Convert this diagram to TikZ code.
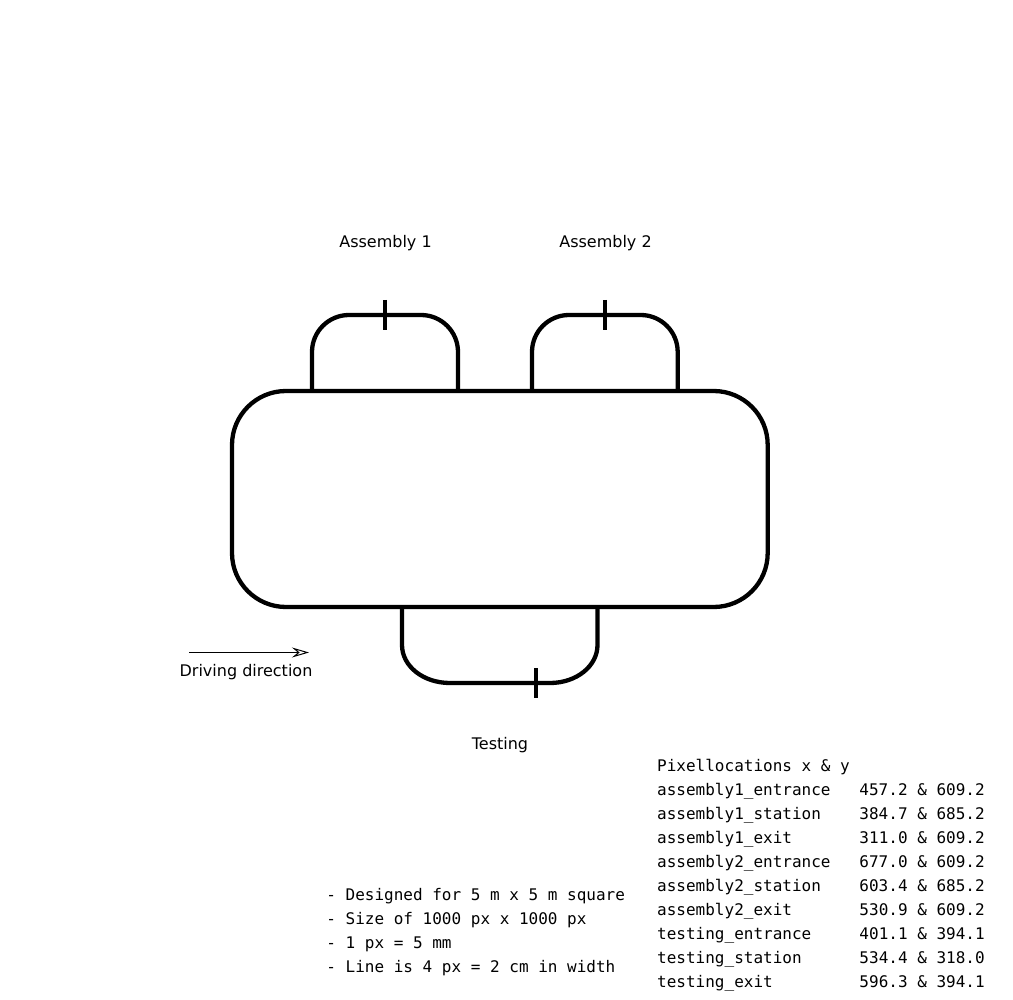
\documentclass[tikz,border=0pt]{standalone}
\usepackage{fontspec}
\setmainfont{DejaVu Sans}
\setmonofont{DejaVu Sans Mono}
\usetikzlibrary{arrows.meta}
\tikzset{
  track/.style={line width=4.3pt,black,line join=round},
  tick/.style={line width=4pt,black},
  lbl/.style={inner sep=0pt,anchor=base,font=\fontsize{16}{16}\selectfont},
  mono/.style={inner sep=0pt,anchor=base west,font=\fontsize{16}{16}\selectfont\ttfamily},
  dir/.style={line width=1pt,-{Stealth[open,length=17pt,width=10pt,inset=6pt]}}
}
\begin{document}
\begin{tikzpicture}[x=1pt,y=-1pt]
\useasboundingbox (0,0) rectangle (1013,1000);
% track
\draw[track,rounded corners=54pt] (232,391) rectangle (767.7,607);
\draw[track,rounded corners=37pt] (312,391) -- (312,315) -- (458,315) -- (458,391);
\draw[track,rounded corners=37pt] (532,391) -- (532,315) -- (677.7,315) -- (677.7,391);
\draw[track] (402,607) -- (402,645) .. controls (402,666) and (423,683) .. (450,683) -- (550,683) .. controls (576.5,683) and (597.5,666) .. (597.5,645) -- (597.5,607);
\coordinate (t1a) at (385,300); \coordinate (t1b) at (385,330);
\coordinate (t2a) at (605,300); \coordinate (t2b) at (605,330);
\coordinate (t3a) at (536,668); \coordinate (t3b) at (536,698);
\draw[tick] (t1a) -- (t1b);
\draw[tick] (t2a) -- (t2b);
\draw[tick] (t3a) -- (t3b);
\coordinate (da) at (189,652.5); \coordinate (db) at (309,652.5);
\draw[dir] (da) -- (db);
\node[lbl] (as1) at (385.5,247.5) {Assembly 1};
\node[lbl] (as2) at (605.5,247.5) {Assembly 2};
\node[lbl] (test) at (500,749.5) {Testing};
\node[lbl] (drive) at (246,676) {Driving direction};
\node[mono] (n1) at (326.2,900.7) {- Designed for 5 m x 5 m square};
\node[mono] (n2) at (326.2,924.9) {- Size of 1000 px x 1000 px};
\node[mono] (n3) at (326.2,948.9) {- 1 px = 5 mm};
\node[mono] (n4) at (326.2,972.9) {- Line is 4 px = 2 cm in width};
\node[mono] (p0) at (657,771) {Pixellocations x \& y};
\node[mono] (p1) at (657,795) {assembly1\_entrance\ \ \ 457.2 \& 609.2};
\node[mono] (p2) at (657,819) {assembly1\_station\ \ \ \ 384.7 \& 685.2};
\node[mono] (p3) at (657,843) {assembly1\_exit\ \ \ \ \ \ \ 311.0 \& 609.2};
\node[mono] (p4) at (657,867) {assembly2\_entrance\ \ \ 677.0 \& 609.2};
\node[mono] (p5) at (657,891) {assembly2\_station\ \ \ \ 603.4 \& 685.2};
\node[mono] (p6) at (657,915) {assembly2\_exit\ \ \ \ \ \ \ 530.9 \& 609.2};
\node[mono] (p7) at (657,939) {testing\_entrance\ \ \ \ \ 401.1 \& 394.1};
\node[mono] (p8) at (657,963) {testing\_station\ \ \ \ \ \ 534.4 \& 318.0};
\node[mono] (p9) at (657,987) {testing\_exit\ \ \ \ \ \ \ \ \ 596.3 \& 394.1};
\end{tikzpicture}
\end{document}
